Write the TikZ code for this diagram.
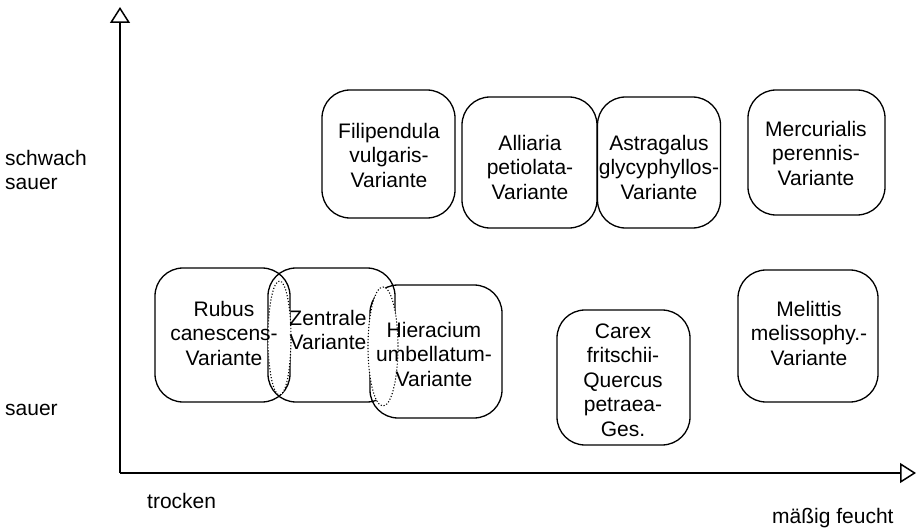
\documentclass[tikz,border=0pt]{standalone}
\usepackage{fontspec}
\setmainfont{Liberation Sans}
\usetikzlibrary{arrows.meta}

\tikzset{
  box/.style={draw, line width=1.3pt, rounded corners=28pt, inner sep=0pt},
  txt/.style={align=center, inner sep=0pt, font=\fontsize{21}{24.5}\selectfont},
  overlap/.style={draw, fill=white, line width=1.1pt, dash pattern=on 1.1pt off 1.9pt},
  axis/.style={line width=1.5pt, -{Triangle[open, length=16pt, width=20pt]}}
}

\begin{document}
\begin{tikzpicture}%
    [x=1pt, y=-1pt]
    \useasboundingbox (0,0) rectangle (922,532);

    % axes
    \coordinate (o) at (120,473);
    \coordinate (ytop) at (120,7);
    \coordinate (xend) at (916,473);
    \draw [axis] (o) -- (ytop);
    \draw [axis] (o) -- (xend);

    \node [txt, align=left, anchor=west] (schwach) at (5,170) {schwach\\sauer};
    \node [txt, anchor=west] (sauer) at (5,410) {sauer};
    \node [txt, anchor=west] (trocken) at (147,501) {trocken};
    \node [txt, anchor=west] (feucht) at (772,518) {mäßig feucht};

    % upper row
    \node [box, minimum width=133pt, minimum height=128pt] (filip) at (388.5,154) {};
    \node [box, minimum width=135pt, minimum height=131pt] (allia) at (529.5,162.5) {};
    \node [box, minimum width=123pt, minimum height=131pt] (astra) at (659,162.5) {};
    \node [box, minimum width=137pt, minimum height=125pt] (mercu) at (816.5,152.5) {};

    % lower row
    \node [box, minimum width=135pt, minimum height=134pt] (rubus) at (222.5,335) {};
    \node [box, minimum width=127pt, minimum height=134pt] (zentr) at (331.5,335) {};
    \node [box, minimum width=132pt, minimum height=133pt] (hiera) at (436,351.5) {};
    \node [box, minimum width=133pt, minimum height=135pt] (carex) at (623.5,377.5) {};
    \node [box, minimum width=140pt, minimum height=132pt] (melit) at (808,336) {};

    % overlaps
    \draw [overlap] (279.5,338) ellipse [x radius=11.5pt, y radius=57pt];
    \draw [overlap] (383,346.5) ellipse [x radius=15pt, y radius=59.5pt];

    \node [txt] (filip-t) at (389,155) {Filipendula\\vulgaris-\\Variante};
    \node [txt] (allia-t) at (530,167) {Alliaria\\petiolata-\\Variante};
    \node [txt] (astra-t) at (659,167) {Astragalus\\glycyphyllos-\\Variante};
    \node [txt] (mercu-t) at (816,153) {Mercurialis\\perennis-\\Variante};
    \node [txt] (rubus-t) at (224,333) {Rubus\\canescens-\\Variante};
    \node [txt] (zentr-t) at (328,330) {Zentrale\\Variante};
    \node [txt] (hiera-t) at (434,354) {Hieracium\\umbellatum-\\Variante};
    \node [txt] (carex-t) at (623,380) {Carex\\fritschii-\\Quercus\\petraea-\\Ges.};
    \node [txt] (melit-t) at (809,333) {Melittis\\melissophy.-\\Variante};

\end{tikzpicture}
\end{document}
